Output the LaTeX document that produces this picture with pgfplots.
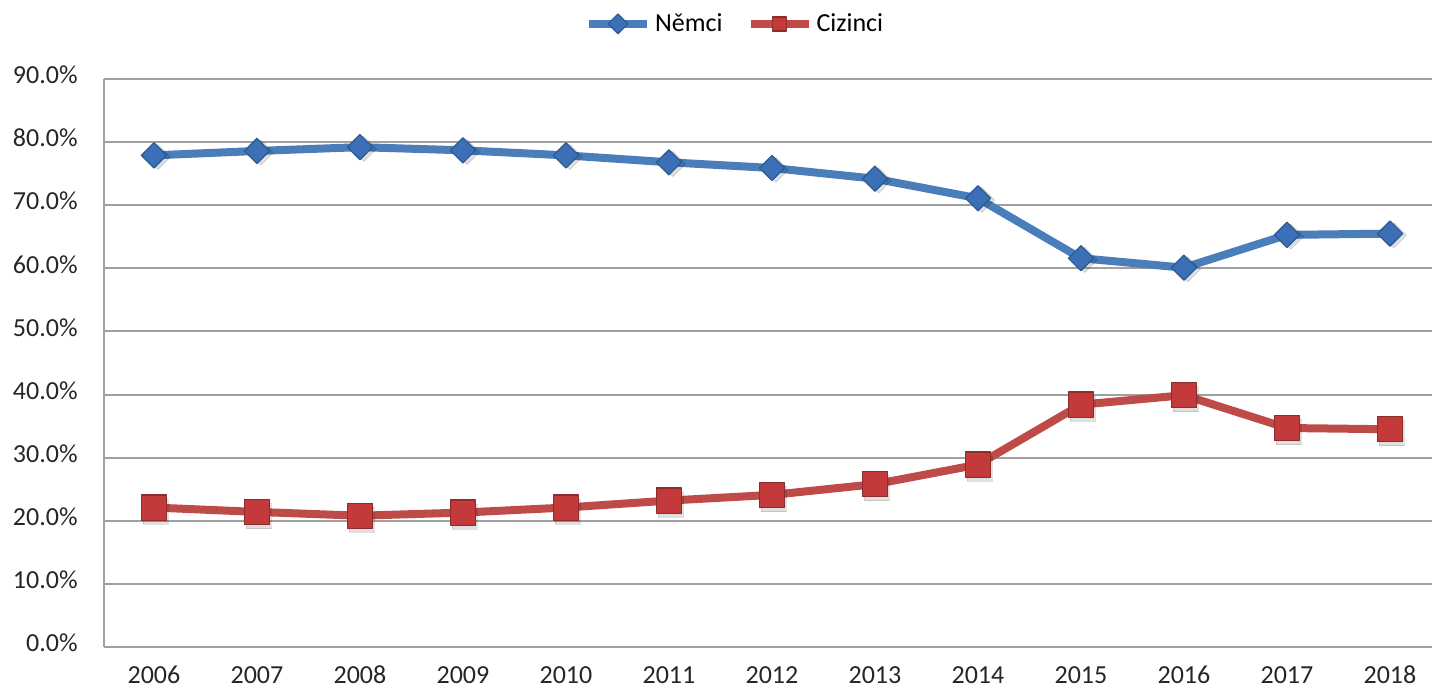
\documentclass[border=0pt]{standalone}
\usepackage{fontspec}
\setmainfont{Carlito}
\usepackage{pgfplots}
\pgfplotsset{compat=1.18}

\definecolor{nemline}{HTML}{4A7EBB}
\definecolor{nemfill}{HTML}{3B70B6}
\definecolor{nemdraw}{HTML}{2B5A92}
\definecolor{cizline}{HTML}{BE4B48}
\definecolor{cizfill}{HTML}{C4393A}
\definecolor{cizdraw}{HTML}{8C2D2B}
\definecolor{gridc}{HTML}{A0A0A0}

% shares of Germans / foreigners, 2006-2018 (x = 0..12)
\pgfplotstableread{
x nemci cizinci
0  77.9 22.1
1  78.6 21.4
2  79.2 20.8
3  78.7 21.3
4  77.9 22.1
5  76.8 23.2
6  75.9 24.1
7  74.2 25.8
8  71.1 28.9
9  61.6 38.4
10 60.1 39.9
11 65.3 34.7
12 65.5 34.5
}\shares

\begin{document}
\begin{tikzpicture}
\begin{axis}[
    scale only axis,
    width=664pt, height=284pt,
    xmin=-0.485, xmax=12.408,
    ymin=0, ymax=90,
    ytick={0,10,...,90},
    xtick={0,...,12},
    xticklabels={2006,2007,2008,2009,2010,2011,2012,2013,2014,2015,2016,2017,2018},
    yticklabel={\pgfmathprintnumber[fixed,fixed zerofill,precision=1]{\tick}\%},
    /pgf/number format/assume math mode=true,
    axis x line*=bottom, axis y line*=left,
    axis line style={draw=gridc, line width=1.2pt, -},
    major tick length=0pt,
    ymajorgrids,
    major grid style={draw=gridc, line width=1pt},
    tick label style={font=\fontsize{13pt}{15pt}\selectfont, text=black!85},
    yticklabel style={anchor=mid east, inner sep=0pt, xshift=-13pt},
    xticklabel style={anchor=base, inner sep=0pt, yshift=-18.2pt},
    clip=false,
    legend style={at={(axis description cs:0.476,1.097)}, anchor=center,
        draw=none, fill=none, font=\fontsize{13pt}{15pt}\selectfont,
        legend columns=2, inner sep=0pt,
        /tikz/every even column/.append style={column sep=10pt}},
    legend cell align=left,
    legend image code/.code={
        \draw[#1, mark repeat=2, mark phase=2, mark size=3.5pt]
            plot coordinates {(0pt,0pt) (14.5pt,0pt) (29pt,0pt)};},
]
% marker shadows
\addplot[draw=none, mark=square*, mark size=4.45pt,
    mark options={rotate=45, fill=black, draw=none, opacity=0.12, xshift=0.8pt, yshift=-2pt},
    forget plot] table[x=x, y=nemci] {\shares};
\addplot[draw=none, mark=square*, mark size=6.3pt,
    mark options={fill=black, draw=none, opacity=0.12, xshift=0.8pt, yshift=-2pt},
    forget plot] table[x=x, y=cizinci] {\shares};

\addplot[nemline, line width=4pt, line join=round, mark=square*, mark size=4.45pt,
    mark options={rotate=45, fill=nemfill, draw=nemdraw, line width=0.6pt}]
    table[x=x, y=nemci] {\shares};
\addlegendentry{Němci}
\addplot[cizline, line width=4pt, line join=round, mark=square*, mark size=6.3pt,
    mark options={fill=cizfill, draw=cizdraw, line width=0.6pt}]
    table[x=x, y=cizinci] {\shares};
\addlegendentry{Cizinci}
\end{axis}
\pgfresetboundingbox
\path[use as bounding box] (-52pt,-22pt) rectangle (664pt,323.5pt);
\end{tikzpicture}
\end{document}
